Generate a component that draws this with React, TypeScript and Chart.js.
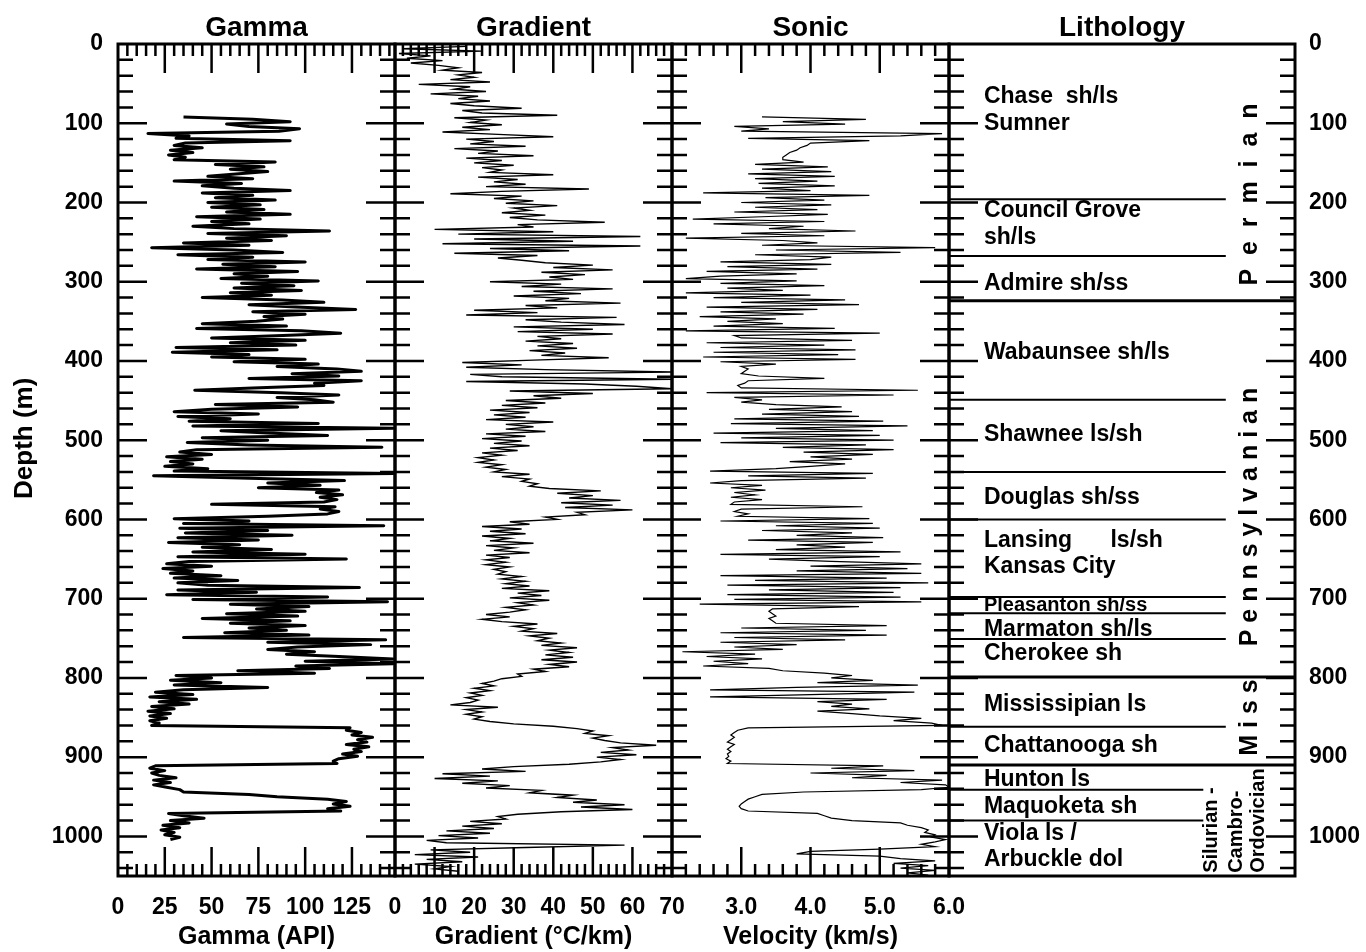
import React, { useEffect, useRef } from "react";
import { Chart, registerables } from "chart.js";

Chart.register(...registerables);

const FONT = "'Liberation Sans', Arial, Helvetica, sans-serif";
Chart.defaults.font.family = FONT;
Chart.defaults.color = "#000";

// ---------------- data ----------------
const DEPTH_MIN = 0;
const DEPTH_MAX = 1050;
const DEPTH_TICKS = [0, 100, 200, 300, 400, 500, 600, 700, 800, 900, 1000];

// Gamma log (API), sampled every 3 m from 92 m
const GAMMA_TOP = 92;
const GAMMA_STEP = 3;
const GAMMA = [
  35, 72, 92, 58, 70, 97, 86, 16, 38, 31,
  92, 36, 30, 45, 28, 40, 27, 36, 30, 84,
  52, 78, 60, 80, 63, 48, 72, 30, 66, 45,
  62, 92, 45, 72, 52, 84, 48, 76, 50, 78,
  58, 92, 42, 76, 50, 70, 40, 62, 113, 48,
  90, 58, 82, 35, 70, 18, 62, 88, 32, 72,
  48, 100, 56, 84, 42, 96, 62, 80, 55, 107,
  66, 94, 62, 98, 60, 82, 45, 88, 110, 70,
  95, 127, 72, 100, 78, 88, 74, 45, 90, 42,
  98, 119, 88, 50, 100, 60, 95, 31, 85, 29,
  70, 50, 100, 62, 107, 85, 117, 130, 93, 118,
  70, 130, 105, 110, 72, 41, 87, 118, 85, 105,
  115, 52, 96, 50, 30, 75, 32, 60, 38, 107,
  40, 147, 55, 80, 112, 45, 80, 37, 70, 141,
  42, 33, 50, 26, 45, 28, 40, 25, 48, 30,
  148, 19, 70, 121, 80, 108, 75, 118, 106, 120,
  108, 117, 110, 50, 116, 108, 118, 112, 80, 30,
  70, 35, 142, 33, 80, 36, 93, 32, 75, 27,
  65, 45, 82, 40, 100, 32, 122, 38, 26, 50,
  24, 40, 28, 55, 30, 64, 32, 48, 129, 32,
  74, 26, 112, 40, 144, 60, 102, 74, 100, 58,
  96, 45, 92, 60, 100, 70, 90, 57, 102, 35,
  143, 80, 135, 96, 80, 105, 90, 118, 147, 100,
  147, 95, 113, 64, 105, 31, 50, 28, 55, 30,
  80, 35, 20, 40, 17, 42, 22, 38, 18, 30,
  16, 28, 17, 26, 17, 22, 18, 124, 122, 130,
  125, 136, 128, 133, 122, 134, 126, 130, 120, 128,
  118, 115, 117, 20, 17, 25, 18, 22, 31, 19,
  28, 19, 26, 33, 35, 70, 85, 112, 122, 115,
  124, 112, 119, 27, 35, 46, 28, 38, 24, 33,
  23, 30, 25, 33, 28,
];

// Thermal gradient (°C/km), sampled every 3 m from 3 m
const GRADIENT_TOP = 3;
const GRADIENT_STEP = 3;
const GRADIENT = [
  18, 2, 22, 1, 9, 3, 12, 4, 11, 16,
  12, 22, 16, 20, 14, 24, 6, 19, 15, 23,
  9, 21, 16, 24, 14, 20, 32, 17, 22, 41,
  15, 23, 19, 27, 17, 24, 12, 26, 40, 18,
  25, 19, 33, 15, 26, 21, 35, 18, 27, 20,
  30, 22, 27, 24, 40, 21, 31, 25, 33, 23,
  49, 27, 14, 32, 25, 35, 28, 41, 30, 34,
  27, 38, 29, 36, 53, 31, 35, 10, 40, 16,
  62, 20, 45, 12, 62, 24, 44, 15, 36, 26,
  32, 38, 50, 40, 55, 37, 48, 39, 45, 24,
  42, 32, 55, 35, 47, 30, 44, 38, 57, 33,
  41, 20, 36, 18, 56, 33, 42, 58, 30, 50,
  31, 55, 36, 42, 33, 45, 36, 46, 34, 43,
  37, 54, 35, 17, 32, 18, 38, 71, 19, 27,
  70, 18, 48, 61, 70, 29, 50, 35, 42, 28,
  38, 27, 36, 24, 34, 25, 33, 23, 40, 28,
  35, 28, 38, 23, 33, 22, 32, 25, 34, 24,
  31, 22, 27, 21, 25, 21, 27, 23, 28, 25,
  34, 27, 34, 32, 36, 34, 39, 52, 41, 50,
  44, 57, 42, 55, 43, 60, 46, 48, 38, 41,
  29, 34, 22, 32, 24, 33, 22, 29, 24, 35,
  23, 30, 25, 34, 23, 29, 23, 28, 23, 29,
  25, 28, 26, 32, 27, 33, 28, 34, 27, 39,
  31, 37, 29, 39, 31, 35, 28, 33, 29, 23,
  29, 22, 27, 36, 30, 35, 32, 41, 34, 39,
  36, 42, 37, 46, 39, 44, 38, 45, 37, 46,
  39, 44, 35, 38, 31, 32, 27, 25, 22, 25,
  20, 24, 19, 22, 18, 21, 19, 14, 26, 18,
  22, 18, 22, 20, 24, 30, 40, 46, 50, 48,
  54, 50, 53, 57, 66, 55, 59, 52, 61, 51,
  57, 52, 44, 30, 22, 33, 12, 24, 10, 26,
  17, 29, 23, 37, 34, 45, 41, 51, 45, 58,
  47, 60, 42, 31, 26, 28, 19, 27, 17, 25,
  13, 24, 11, 21, 8, 13, 58, 33, 9, 19,
  5, 21, 8, 17, 5, 14, 10, 16,
];

// Sonic velocity (km/s), sampled every 3 m from 92 m
const SONIC_TOP = 92;
const SONIC_STEP = 3;
const SONIC = [
  3.3, 4.8, 3.6, 4.5, 2.9, 3.4, 3.0, 5.9, 5.3, 3.1,
  4.85, 4.0, 3.95, 3.85, 3.8, 3.7, 3.65, 3.6, 3.6, 3.9,
  3.2, 4.25, 3.3, 4.3, 3.1, 4.35, 3.2, 4.1, 3.25, 4.35,
  3.3, 4.0, 2.45, 4.85, 3.35, 4.2, 3.0, 4.3, 3.2, 4.1,
  2.9, 4.25, 3.3, 2.3, 4.2, 2.6, 3.9, 3.4, 4.65, 3.0,
  4.2, 2.2, 3.6, 4.1, 3.3, 5.8, 3.5, 5.3, 3.2, 4.3,
  4.0, 2.7, 4.3, 2.8, 4.1, 2.5, 3.8, 2.7, 2.2, 3.8,
  2.7, 4.2, 2.8, 3.6, 2.2, 4.0, 2.6, 4.5, 3.0, 4.7,
  2.5, 4.1, 2.7, 3.9, 2.4, 3.5, 2.8, 3.6, 2.6, 4.35,
  2.2, 5.0, 2.9, 3.0, 4.6, 2.5, 4.2, 2.7, 4.65, 2.6,
  4.4, 2.45, 4.65, 2.7, 3.5, 3.0, 3.1, 3.05, 3.0, 3.25,
  4.2, 3.1, 3.05, 2.95, 3.0, 5.55, 2.5, 5.2, 2.9, 3.3,
  3.0, 3.5, 4.45, 3.4, 4.6, 3.3, 4.7, 2.9, 5.05, 2.85,
  5.4, 3.5, 4.9, 2.6, 5.0, 3.0, 5.2, 2.7, 4.8, 3.6,
  5.2, 3.9, 4.9, 4.0, 4.6, 3.7, 4.5, 4.0, 3.5, 2.55,
  4.9, 3.1, 4.8, 3.0, 2.55, 3.3, 2.85, 3.35, 2.9, 3.2,
  2.85, 3.3, 2.9, 2.85, 4.75, 3.0, 2.9, 3.1, 2.95, 4.85,
  2.7, 4.9, 3.5, 5.0, 3.3, 4.6, 3.8, 5.05, 3.1, 4.9,
  3.8, 4.5, 3.5, 5.3, 2.7, 5.0, 3.4, 4.3, 5.6, 4.0,
  5.4, 3.8, 5.6, 2.7, 5.1, 3.2, 5.7, 2.8, 5.3, 3.4,
  5.2, 2.8, 5.3, 2.9, 5.6, 2.4, 4.7, 3.45, 3.4, 3.45,
  3.5, 3.4, 3.45, 3.5, 5.1, 3.0, 4.8, 2.7, 5.1, 2.9,
  4.5, 2.7, 3.8, 2.9, 3.6, 2.15, 3.2, 2.5, 3.3, 2.6,
  3.1, 2.45, 3.4, 3.6, 4.2, 4.6, 4.3, 4.9, 4.1, 5.55,
  3.8, 2.55, 5.5, 4.0, 2.55, 5.1, 4.1, 4.6, 4.3, 4.85,
  4.1, 4.6, 5.0, 5.6, 5.2, 5.75, 5.9, 3.1, 2.95, 2.9,
  2.85, 2.9, 2.85, 2.8, 2.9, 2.85, 2.8, 2.85, 2.8, 2.82,
  2.78, 2.85, 2.8, 5.05, 4.3, 5.5, 4.0, 5.1, 4.6, 5.9,
  5.3, 5.95, 6.0, 5.6, 3.9, 3.3, 3.2, 3.1, 3.05, 3.0,
  2.97, 3.0, 3.1, 4.1, 4.2, 4.3, 4.6, 5.3, 5.4, 5.6,
  5.7, 5.65, 5.8, 5.75, 5.95, 5.8, 5.6, 5.8, 5.0, 4.0,
  3.8, 5.0, 5.3, 5.8, 5.2, 5.7, 5.3, 5.8, 5.4, 5.7,
];

const GAMMA_TICKS = [0, 25, 50, 75, 100, 125];
const GRADIENT_TICKS = [0, 10, 20, 30, 40, 50, 60, 70];
const VELOCITY_TICKS = [3, 4, 5, 6];

// Lithology
const FORMATION_NAMES = [
  "Chase  sh/ls", "Sumner", "Council Grove", "sh/ls", "Admire sh/ss",
  "Wabaunsee sh/ls", "Shawnee ls/sh", "Douglas sh/ss", "Lansing      ls/sh",
  "Kansas City", "Pleasanton sh/ss", "Marmaton sh/ls", "Cherokee sh",
  "Mississipian ls", "Chattanooga sh", "Hunton ls", "Maquoketa sh",
  "Viola ls /", "Arbuckle dol",
];
const FORMATION_DEPTHS = [66, 100, 210, 244, 302, 390, 493, 572, 627, 660, 708, 739, 770, 834, 886, 929, 963, 996, 1030];
const FORMATION_BOUNDARIES = [196, 267.5, 449, 540, 600, 698, 718.5, 751, 861.5, 941, 980];
const PERIOD_BOUNDARIES = [324, 799, 910];
const PERIOD_NAMES = ["P  e  r  m  i  a  n", "P e n n s y l v a n i a n", "M i s s"];
const PERIOD_DEPTHS = [190, 597, 850];
const OLDER_PERIOD_LINES = ["Silurian -", "Cambro-", "Ordovician"];

// ---------------- layout / style ----------------
const PAGE_W = 1366;
const PAGE_H = 952;
const TOP_AXIS_H = 44;
const BOTTOM_AXIS_H = 76;

const TICK_FONT = { size: 23, weight: "bold" as const };
const PANEL_TITLE_FONT = { size: 28, weight: "bold" as const };
const AXIS_TITLE_FONT = { size: 25, weight: "bold" as const };

const frameTicks = {
  id: "frameTicks",
  afterDraw(chart: any, _args: any, opts: any) {
    const { ctx, chartArea: a, scales } = chart;
    const y = scales.y;
    const x = scales.x;
    ctx.save();
    ctx.strokeStyle = "#000";
    ctx.lineCap = "butt";
    ctx.lineWidth = 2.5;
    ctx.beginPath();
    for (let d = 20; d < DEPTH_MAX; d += 20) {
      const py = y.getPixelForValue(d);
      const len = d % 100 === 0 ? 29 : 15;
      ctx.moveTo(a.left, py);
      ctx.lineTo(a.left + len, py);
      ctx.moveTo(a.right, py);
      ctx.lineTo(a.right - len, py);
    }
    if (opts && opts.xMinor) {
      const n = Math.round((x.max - x.min) / opts.xMinor);
      for (let i = 1; i < n; i++) {
        const v = x.min + i * opts.xMinor;
        const r = v / opts.xMajor;
        const major = Math.abs(r - Math.round(r)) < 1e-6;
        const len = major ? 29 : 12;
        const px = x.getPixelForValue(v);
        ctx.moveTo(px, a.top);
        ctx.lineTo(px, a.top + len);
        ctx.moveTo(px, a.bottom);
        ctx.lineTo(px, a.bottom - len);
      }
    }
    ctx.stroke();
    ctx.lineWidth = 3;
    ctx.strokeRect(a.left, a.top, a.right - a.left, a.bottom - a.top);
    ctx.restore();
  },
};

const lithologyPlugin = {
  id: "lithology",
  afterDraw(chart: any) {
    const { ctx, chartArea: a, scales } = chart;
    const x = scales.x;
    const y = scales.y;
    ctx.save();
    ctx.strokeStyle = "#000";
    ctx.fillStyle = "#000";
    ctx.lineWidth = 2;
    FORMATION_BOUNDARIES.forEach((d) => {
      const py = y.getPixelForValue(d);
      const end = d > 920 ? 0.735 : 0.8;
      ctx.beginPath();
      ctx.moveTo(a.left, py);
      ctx.lineTo(x.getPixelForValue(end), py);
      ctx.stroke();
    });
    ctx.lineWidth = 3;
    PERIOD_BOUNDARIES.forEach((d) => {
      const py = y.getPixelForValue(d);
      ctx.beginPath();
      ctx.moveTo(a.left, py);
      ctx.lineTo(a.right, py);
      ctx.stroke();
    });
    ctx.textAlign = "left";
    ctx.textBaseline = "middle";
    FORMATION_NAMES.forEach((name, i) => {
      const size = name.startsWith("Pleasanton") ? 20 : 23;
      ctx.font = `bold ${size}px ${FONT}`;
      ctx.fillText(name, x.getPixelForValue(0.101), y.getPixelForValue(FORMATION_DEPTHS[i]));
    });
    ctx.font = `bold 25px ${FONT}`;
    ctx.textAlign = "center";
    PERIOD_NAMES.forEach((name, i) => {
      ctx.save();
      ctx.translate(x.getPixelForValue(0.87), y.getPixelForValue(PERIOD_DEPTHS[i]));
      ctx.rotate(-Math.PI / 2);
      ctx.fillText(name, 0, 0);
      ctx.restore();
    });
    ctx.font = `bold 20px ${FONT}`;
    ctx.textAlign = "left";
    const cols = [0.759, 0.831, 0.894];
    OLDER_PERIOD_LINES.forEach((line, i) => {
      ctx.save();
      ctx.translate(x.getPixelForValue(cols[i]), y.getPixelForValue(1046));
      ctx.rotate(-Math.PI / 2);
      ctx.fillText(line, 0, 0);
      ctx.restore();
    });
    ctx.restore();
  },
};

function topTitleAxis(min: number, max: number, text: string) {
  return {
    type: "linear",
    position: "top",
    min,
    max,
    grid: { display: false, drawTicks: false },
    border: { display: false },
    ticks: { display: false },
    afterFit: (s: any) => {
      s.height = TOP_AXIS_H;
    },
    title: { display: true, text, font: PANEL_TITLE_FONT, color: "#000", padding: { top: 11, bottom: 0 } },
  };
}

function depthAxis(position: string, show: boolean, width: number) {
  const axis: any = {
    type: "linear",
    position,
    reverse: true,
    min: DEPTH_MIN,
    max: DEPTH_MAX,
    display: show,
    grid: { display: false, drawTicks: false },
    border: { display: false },
    ticks: {
      font: TICK_FONT,
      color: "#000",
      padding: position === "left" ? 15 : 14,
      autoSkip: false,
      callback: (v: number) => String(v),
    },
    afterBuildTicks: (s: any) => {
      s.ticks = DEPTH_TICKS.map((v) => ({ value: v }));
    },
    title: {
      display: position === "left",
      // leading spaces move the rotated title a little above the axis centre, as in the original
      text: "      Depth (m)",
      font: { size: 26, weight: "bold" },
      color: "#000",
      padding: { top: 9, bottom: 0 },
    },
  };
  if (show) {
    axis.afterFit = (s: any) => {
      s.width = width;
    };
  }
  return axis;
}

function logConfig(p: any) {
  const points = p.values.map((v: number, i: number) => ({ x: v, y: p.top + i * p.step }));
  return {
    type: "scatter",
    data: {
      datasets: [
        {
          data: points,
          showLine: true,
          borderColor: "#000",
          backgroundColor: "#000",
          borderWidth: p.lineWidth,
          borderJoinStyle: p.join,
          pointRadius: 0,
          fill: false,
        },
      ],
    },
    options: {
      responsive: false,
      maintainAspectRatio: false,
      animation: false,
      events: [],
      layout: { padding: { left: p.padLeft, right: p.padRight, top: 0, bottom: 0 } },
      plugins: {
        legend: { display: false },
        tooltip: { enabled: false },
        frameTicks: { xMinor: p.xMinor, xMajor: p.xMajor },
      },
      scales: {
        x: {
          type: "linear",
          position: "bottom",
          min: p.min,
          max: p.max,
          grid: { display: false, drawTicks: false },
          border: { display: false },
          ticks: {
            font: TICK_FONT,
            color: "#000",
            padding: 18,
            maxRotation: 0,
            minRotation: 0,
            autoSkip: false,
            callback: p.format,
          },
          afterBuildTicks: (s: any) => {
            s.ticks = p.ticks.map((v: number) => ({ value: v }));
          },
          afterFit: (s: any) => {
            s.height = BOTTOM_AXIS_H;
          },
          title: { display: true, text: p.axisTitle, font: AXIS_TITLE_FONT, color: "#000", padding: { top: 0, bottom: 0 } },
        },
        xTop: topTitleAxis(p.min, p.max, p.title),
        y: depthAxis("left", p.showDepth, 118),
      },
    },
    plugins: [frameTicks],
  };
}

const gammaConfig = logConfig({
  values: GAMMA, top: GAMMA_TOP, step: GAMMA_STEP, min: 0, max: 148,
  ticks: GAMMA_TICKS, format: (v: number) => String(v),
  title: "Gamma", axisTitle: "Gamma (API)", lineWidth: 3, join: "round",
  showDepth: true, padLeft: 0, padRight: 40, xMinor: 5, xMajor: 25,
});

const gradientConfig = logConfig({
  values: GRADIENT, top: GRADIENT_TOP, step: GRADIENT_STEP, min: 0, max: 70,
  ticks: GRADIENT_TICKS, format: (v: number) => String(v),
  title: "Gradient", axisTitle: "Gradient (°C/km)", lineWidth: 1.4, join: "miter",
  showDepth: false, padLeft: 40, padRight: 40, xMinor: 2, xMajor: 10,
});

const sonicConfig = logConfig({
  values: SONIC, top: SONIC_TOP, step: SONIC_STEP, min: 2, max: 6,
  ticks: VELOCITY_TICKS, format: (v: number) => Number(v).toFixed(1),
  title: "Sonic", axisTitle: "Velocity (km/s)", lineWidth: 1.2, join: "miter",
  showDepth: false, padLeft: 40, padRight: 40, xMinor: 0.2, xMajor: 1,
});

const lithologyConfig = {
  type: "scatter",
  data: { datasets: [] },
  options: {
    responsive: false,
    maintainAspectRatio: false,
    animation: false,
    events: [],
    layout: { padding: { left: 40, right: 0, top: 0, bottom: BOTTOM_AXIS_H } },
    plugins: { legend: { display: false }, tooltip: { enabled: false }, frameTicks: {} },
    scales: {
      x: { type: "linear", min: 0, max: 1, display: false },
      xTop: topTitleAxis(0, 1, "Lithology"),
      y: depthAxis("right", true, 71),
    },
  },
  plugins: [frameTicks, lithologyPlugin],
};

function ChartCanvas({ left, width, config }: { left: number; width: number; config: any }) {
  const ref = useRef<HTMLCanvasElement>(null);
  useEffect(() => {
    const chart = new Chart(ref.current as HTMLCanvasElement, config);
    return () => chart.destroy();
  }, [config]);
  return (
    <canvas
      ref={ref}
      width={width}
      height={PAGE_H}
      style={{ position: "absolute", left, top: 0, width, height: PAGE_H }}
    />
  );
}

export default function App() {
  return (
    <div style={{ position: "absolute", left: 0, top: 0, width: PAGE_W, height: PAGE_H, background: "#fff", overflow: "hidden" }}>
      <ChartCanvas left={0} width={435} config={gammaConfig} />
      <ChartCanvas left={355} width={357} config={gradientConfig} />
      <ChartCanvas left={632} width={357} config={sonicConfig} />
      <ChartCanvas left={909} width={457} config={lithologyConfig} />
    </div>
  );
}
